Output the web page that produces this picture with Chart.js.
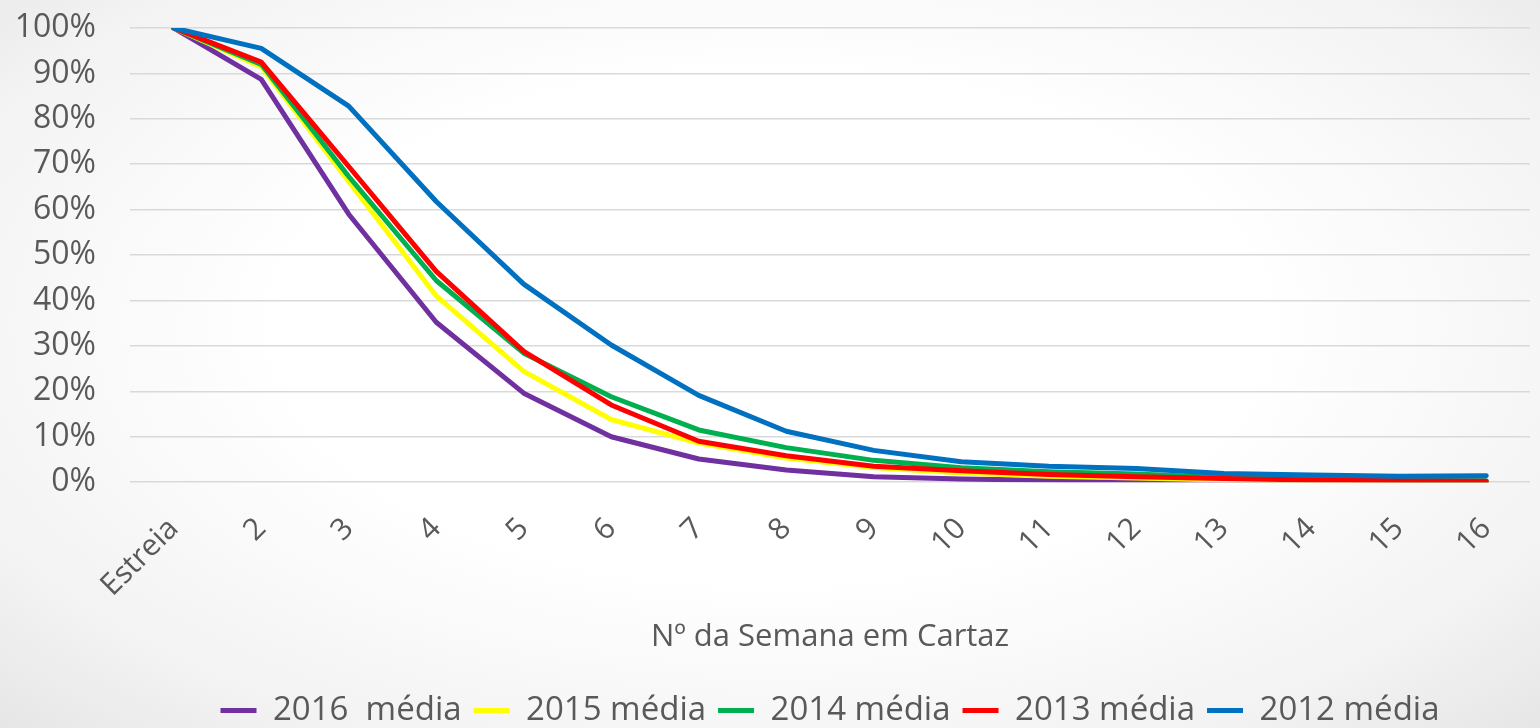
<!DOCTYPE html>
<html>
<head>
<meta charset="utf-8">
<script src="https://cdn.jsdelivr.net/npm/chart.js@4"></script>
<style>
  html, body { margin: 0; padding: 0; }
  body {
    width: 1540px; height: 728px; overflow: hidden;
    background: radial-gradient(ellipse at 50% 45%, #ffffff 0%, #ffffff 45%, #f3f3f3 80%, #e6e6e6 100%);
  }
  #wrap { position: relative; width: 1540px; height: 728px; }
</style>
</head>
<body>
<div id="wrap"><canvas id="curve"></canvas></div>
<script>
// semanas em cartaz
const semanas = ['Estreia', '2', '3', '4', '5', '6', '7', '8', '9', '10', '11', '12', '13', '14', '15', '16'];

// % da receita da estreia, por ano
const media2016 = [100, 88.7, 59.0, 35.2, 19.6, 10.0, 5.1, 2.7, 1.2, 0.7, 0.4, 0.3, 0.2, 0.1, 0.1, 0.0];
const media2015 = [100, 91.5, 66.2, 41.0, 24.4, 13.8, 8.6, 5.3, 3.2, 2.0, 1.3, 0.9, 0.5, 0.3, 0.2, 0.1];
const media2014 = [100, 92.0, 67.3, 44.4, 28.4, 18.8, 11.5, 7.6, 4.8, 3.2, 2.3, 1.8, 1.0, 0.7, 0.4, 0.3];
const media2013 = [100, 92.5, 69.5, 46.4, 28.8, 17.0, 9.0, 5.8, 3.5, 2.5, 1.7, 1.2, 0.8, 0.5, 0.3, 0.2];
const media2012 = [100, 95.5, 82.8, 61.8, 43.6, 30.2, 19.1, 11.2, 7.0, 4.5, 3.5, 3.0, 1.9, 1.6, 1.3, 1.4];

const yTicks = [0, 10, 20, 30, 40, 50, 60, 70, 80, 90, 100];

const cinza = '#595959';
const fonte = "'Open Sans', sans-serif";

function serie(label, data, cor, ordem) {
  return {
    label, data,
    borderColor: cor, backgroundColor: cor,
    borderWidth: 5, pointRadius: 0, tension: 0,
    borderCapStyle: 'round', borderJoinStyle: 'round',
    pointStyle: 'line',
    order: ordem
  };
}

// a legenda do original não fica centrada no canvas
const deslocaLegenda = {
  id: 'deslocaLegenda',
  afterLayout(chart) {
    chart.legend.left += 58;
    chart.legend.right += 58;
  }
};

const ctx = document.getElementById('curve').getContext('2d');
new Chart(ctx, {
  type: 'line',
  data: {
    labels: semanas,
    datasets: [
      serie('2016  média', media2016, '#7030A0', 5),
      serie('2015 média',  media2015, '#FFFF00', 4),
      serie('2014 média',  media2014, '#00B050', 3),
      serie('2013 média',  media2013, '#FF0000', 2),
      serie('2012 média',  media2012, '#0070C0', 1)
    ]
  },
  plugins: [deslocaLegenda],
  options: {
    responsive: true,
    maintainAspectRatio: false,
    animation: false,
    layout: { padding: { top: 0, right: 10, left: 14, bottom: -9 } },
    plugins: {
      tooltip: { enabled: false },
      legend: {
        position: 'bottom',
        labels: {
          sort: (a, b) => a.datasetIndex - b.datasetIndex,
          usePointStyle: true, pointStyle: 'line', pointStyleWidth: 36,
          boxHeight: 30,
          padding: 12,
          color: cinza,
          font: { family: fonte, size: 33 }
        }
      }
    },
    scales: {
      x: {
        offset: true,
        grid: { display: false },
        border: { display: false },
        afterFit: axis => { axis.paddingLeft = 0; },
        ticks: {
          color: cinza, maxRotation: 45, minRotation: 45, padding: 21,
          font: { family: fonte, size: 30 }
        },
        title: {
          display: true, text: 'Nº da Semana em Cartaz', color: cinza,
          font: { family: fonte, size: 31 }, padding: { top: -6, bottom: 26 }
        }
      },
      y: {
        min: 0, max: 100,
        afterBuildTicks: axis => { axis.ticks = yTicks.map(v => ({ value: v })); },
        afterFit: axis => { axis.width = 116; axis.paddingTop = 28; axis.paddingBottom = 20; },
        grid: { color: '#d9d9d9', lineWidth: 1.5, drawTicks: false },
        border: { display: false },
        ticks: {
          color: cinza, padding: 34,
          font: { family: fonte, size: 32 },
          callback: v => v + '%'
        }
      }
    }
  }
});
</script>
</body>
</html>
